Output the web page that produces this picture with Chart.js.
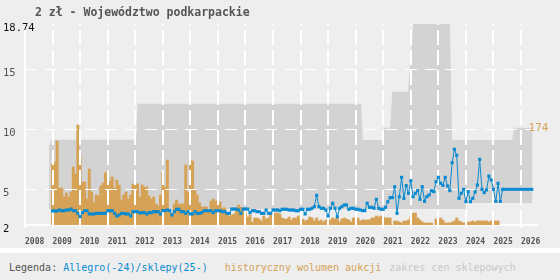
<!DOCTYPE html>
<html>
<head>
<meta charset="utf-8">
<script src="https://cdn.jsdelivr.net/npm/chart.js@4"></script>
<style>
  body { margin: 0; background: #eeeeee; }
  #wrap { width: 560px; height: 248px; }
  #sep { height: 5px; background: #ffffff; }
  #legend { height: 27px; overflow: hidden; font: 10px "DejaVu Sans Mono", monospace; line-height: 29px; padding-left: 9px; white-space: pre; color: #555; }
</style>
</head>
<body>
<div id="wrap"><canvas id="chart" width="560" height="248"></canvas></div>
<div id="sep"></div>
<div id="legend">Legenda: <span style="color:#0a8ad0">Allegro(-24)/sklepy(25-)</span><span style="color:#d6a256;margin-left:17px">historyczny wolumen aukcji</span><span style="color:#c8c8c8;margin-left:8px">zakres cen sklepowych</span></div>
<script>
var title = '2 zł - Województwo podkarpackie';
var endLabel = '174';

var xTicks = [2008, 2009, 2010, 2011, 2012, 2013, 2014, 2015, 2016, 2017, 2018, 2019, 2020, 2021, 2022, 2023, 2024, 2025, 2026];
var yTicks = [2, 5, 10, 15, 18.74];
var yGridValues = [5, 10, 15];

// monthly auction volume, from Jan 2009
var volumeStart = 2009;
var volumes = [
  61, 63, 84, 37, 37, 28, 32, 28, 33, 58, 51, 100,
  69, 43, 43, 26, 56, 33, 22, 30, 29, 39, 42, 52,
  54, 44, 48, 37, 45, 40, 25, 30, 33, 26, 30, 41,
  41, 41, 28, 40, 38, 38, 29, 26, 28, 21, 19, 30,
  52, 38, 65, 15, 11, 21, 25, 21, 21, 21, 60, 33,
  64, 64, 35, 30, 22, 18, 18, 18, 14, 24, 26, 24,
  23, 23, 17, 17, 12, 9, 10, 11, 16, 20, 18, 15,
  11, 8, 10, 3, 7, 7, 6, 4, 9, 6, 7, 10,
  6, 12, 12, 11, 7, 6, 6, 8, 5, 7, 7, 9,
  6, 6, 4, 5, 8, 7, 4, 7, 4, 5, 3, 5,
  5, 5, 7, 6, 7, 3, 6, 7, 6, 5, 3, 7,
  7, 7, 4, 5, 5, 5, 5, 7, 7, 9, 8, 9,
  8, 7, 7, 7, 0, 4, 4, 3, 2, 4, 4, 5,
  8, 12, 12, 7, 5, 3, 2, 2, 2, 2, 0, 6,
  5, 7, 5, 2, 2, 2, 3, 4, 7, 4, 3, 2,
  2, 3, 3, 4, 3, 4, 4, 4, 4, 4, 3, 4,
  4, 4, 4
];

// monthly Allegro price, from Jan 2009
var priceStart = 2009;
var allegroPrices = [
  3.17, 3.17, 3.17, 3.25, 3.19, 3.19, 3.25, 3.25, 3.33, 3.19, 3.19, 2.97,
  2.69, 3.03, 3.19, 3.19, 2.92, 2.92, 2.92, 2.97, 2.97, 2.97, 2.97, 2.97,
  3.19, 3.19, 3.19, 2.97, 2.75, 2.83, 2.97, 2.97, 2.92, 2.92, 2.75, 3.11,
  3.11, 3.11, 3.0, 3.03, 3.03, 2.92, 3.03, 3.03, 3.11, 3.11, 3.11, 2.92,
  3.2, 3.2, 3.25, 3.2, 2.83, 3.11, 3.31, 3.31, 3.11, 3.11, 2.97, 3.11,
  2.92, 2.92, 3.11, 2.97, 2.97, 3.03, 3.19, 3.19, 3.19, 3.19, 3.03, 3.19,
  3.19, 3.19, 3.11, 3.11, 2.97, 2.97, 3.33, 3.33, 3.33, 3.25, 2.97, 3.33,
  3.33, 3.33, 3.03, 3.19, 3.19, 3.11, 3.11, 2.97, 2.97, 3.25, 2.97, 2.97,
  3.25, 3.25, 3.25, 3.19, 3.31, 3.31, 3.31, 3.25, 3.25, 3.25, 3.19, 3.19,
  3.31, 3.31, 2.92, 3.31, 3.31, 3.39, 3.53, 4.47, 3.53, 3.39, 3.39, 3.25,
  2.75, 3.39, 3.81, 3.39, 2.69, 3.39, 3.53, 3.67, 3.67, 3.31, 3.39, 3.39,
  3.31, 3.31, 3.25, 3.2, 3.2, 3.81, 3.47, 3.47, 3.39, 4.14, 3.39, 3.31,
  3.31, 3.47, 3.94, 4.28, 4.28, 5.19, 2.97, 4.36, 5.97, 4.22, 5.28, 4.64,
  5.69, 4.36, 4.64, 4.86, 4.14, 5.19, 3.97, 4.36, 4.5, 4.86, 4.78, 5.61,
  5.97, 5.47, 5.3, 5.97, 5.25, 4.86, 7.19, 8.31, 7.8, 4.22, 4.64, 4.97,
  3.94, 4.78, 3.94, 4.22, 4.75, 5.33, 7.47, 4.97, 4.7, 4.92, 6.08, 5.75,
  4.97, 3.97, 5.47, 3.97, 4.97
];

// shop price (from 2025)
var shopYears = [2025.35, 2026.45];
var shopPrices = [4.97, 4.97];

// shop price range
var rangeYears = [2008.87, 2008.95, 2012.03, 2012.08, 2020.2, 2020.26, 2020.98, 2021.03, 2021.25, 2021.33, 2021.9, 2022.09, 2023.42, 2023.5, 2023.98, 2024.02, 2025.68, 2025.74, 2026.42];
var rangeMin = [3.33, 3.33, 3.33, 3.33, 3.33, 3.33, 3.33, 3.33, 3.33, 3.33, 3.33, 3.33, 3.33, 3.33, 3.33, 3.83, 3.83, 3.83, 3.83];
var rangeMax = [8.6, 9.1, 9.1, 12.1, 12.1, 9.08, 9.08, 10.1, 10.1, 13.1, 13.1, 18.74, 18.74, 9.08, 9.08, 9.08, 9.08, 10.1, 10.1];

var blue = '#0a8ad0';
var sand = '#d6a256';
var mono = '"DejaVu Sans Mono", monospace';

function pts(xs, ys) {
    return ys.map(function (y, i) { return { x: xs[i], y: y }; });
}
function monthly(start, ys) {
    return ys.map(function (y, i) { return { x: start + i / 12, y: y }; });
}

// grid goes over the grey range and the bars, price lines go over the grid
var topLayer = {
    id: 'topLayer',
    beforeDatasetDraw: function (chart, args) {
        if (chart.data.datasets[args.index].onTop && !chart.$top) return false;
    },
    afterDatasetsDraw: function (chart) {
        var ctx = chart.ctx, a = chart.chartArea;
        var xs = chart.scales.x, ys = chart.scales.y;
        ctx.save();
        ctx.strokeStyle = '#fff';
        ctx.lineWidth = 2;
        xTicks.forEach(function (v) {
            var px = Math.round(xs.getPixelForValue(v));
            ctx.setLineDash([15, 5]);
            ctx.beginPath();
            ctx.moveTo(px, a.bottom);
            ctx.lineTo(px, a.top);
            ctx.stroke();
            ctx.setLineDash([]);
            ctx.beginPath();
            ctx.moveTo(px, a.bottom);
            ctx.lineTo(px, a.bottom + 3);
            ctx.stroke();
        });
        ctx.lineWidth = 1;
        ctx.setLineDash([12, 8]);
        yGridValues.forEach(function (v) {
            var py = Math.round(ys.getPixelForValue(v)) + 0.5;
            ctx.beginPath();
            ctx.moveTo(a.left, py);
            ctx.lineTo(a.right, py);
            ctx.stroke();
        });
        ctx.restore();
    },
    afterDraw: function (chart) {
        var ctx = chart.ctx, a = chart.chartArea;
        chart.$top = true;
        ctx.save();
        ctx.beginPath();
        ctx.rect(a.left, a.top, a.right - a.left, a.bottom - a.top);
        ctx.clip();
        chart.data.datasets.forEach(function (ds, i) {
            if (ds.onTop) chart.getDatasetMeta(i).controller.draw();
        });
        ctx.restore();
        chart.$top = false;

        // title + end label
        ctx.save();
        ctx.font = 'bold 11.5px ' + mono;
        ctx.fillStyle = '#555';
        ctx.textBaseline = 'middle';
        ctx.textAlign = 'left';
        ctx.fillText(title, 35, 13);
        var xs = chart.scales.x, ys = chart.scales.y;
        ctx.font = '11px ' + mono;
        ctx.fillStyle = sand;
        ctx.fillText(endLabel, xs.getPixelForValue(rangeYears[rangeYears.length - 1]) - 4,
            ys.getPixelForValue(rangeMax[rangeMax.length - 1]));
        ctx.restore();
    }
};

new Chart(document.getElementById('chart'), {
    type: 'line',
    data: {
        datasets: [{
            data: pts(rangeYears, rangeMin),
            borderWidth: 0, pointRadius: 0, fill: false, order: 6
        }, {
            data: pts(rangeYears, rangeMax),
            borderWidth: 0, pointRadius: 0, fill: '-1', backgroundColor: '#d3d3d3', order: 5
        }, {
            type: 'bar',
            data: monthly(volumeStart, volumes),
            yAxisID: 'y2',
            backgroundColor: sand,
            borderWidth: 0,
            barPercentage: 1, categoryPercentage: 1,
            order: 4
        }, {
            data: monthly(priceStart, allegroPrices),
            borderColor: blue, borderWidth: 1,
            pointStyle: 'rect', pointRadius: 2.2, pointBorderWidth: 0,
            pointBackgroundColor: blue,
            order: 1, onTop: true
        }, {
            data: pts(shopYears, shopPrices),
            borderColor: blue, borderWidth: 3, pointRadius: 0,
            order: 0, onTop: true
        }]
    },
    options: {
        responsive: false,
        animation: false,
        events: [],
        layout: { padding: { left: 3, top: 24, right: 23, bottom: 0 } },
        plugins: { legend: { display: false }, tooltip: { enabled: false } },
        scales: {
            x: {
                type: 'linear', min: 2008, max: 2026.58, offset: false,
                afterBuildTicks: function (s) { s.ticks = xTicks.map(function (v) { return { value: v }; }); },
                afterFit: function (s) { s.height = 23; },
                grid: { display: false, tickLength: 3 },
                border: { color: '#fff', width: 2 },
                ticks: {
                    align: 'start', padding: 9, color: '#555', autoSkip: false, maxRotation: 0,
                    font: { family: mono, size: 8, weight: 'bold' },
                    callback: function (v) { return String(v); }
                }
            },
            y: {
                type: 'linear', min: 2, max: 18.74,
                afterBuildTicks: function (s) { s.ticks = yTicks.map(function (v) { return { value: v }; }); },
                afterFit: function (s) { s.width = 22; },
                grid: { display: false },
                border: { color: '#fff', width: 2 },
                ticks: {
                    mirror: true, crossAlign: 'near', padding: -22, labelOffset: 4,
                    font: { family: mono, size: 10.5 },
                    color: function (c) { return (c.tick && (c.tick.value === 2 || c.tick.value === 18.74)) ? '#111' : '#555'; },
                    callback: function (v) { return String(v); }
                }
            },
            y2: { type: 'linear', min: 0, max: 201, display: false }
        }
    },
    plugins: [topLayer]
});
</script>
</body>
</html>
